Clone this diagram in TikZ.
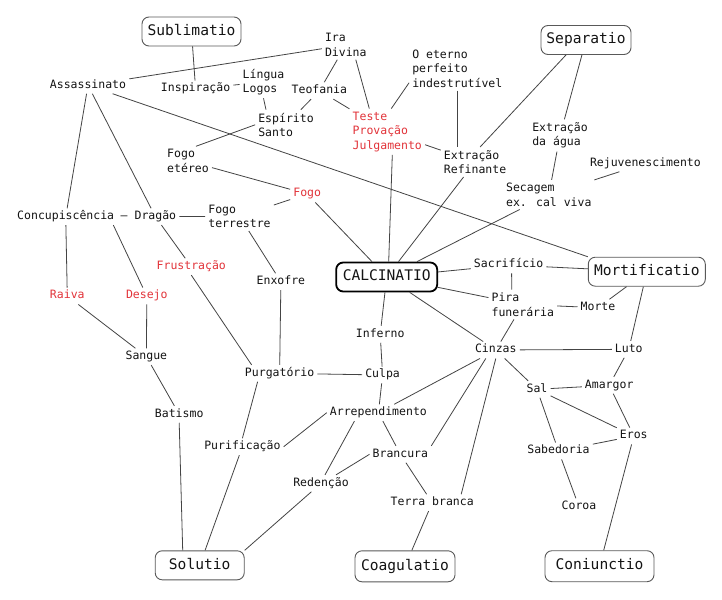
\documentclass[tikz,border=0pt]{standalone}
\usepackage{fontspec}
\newfontfamily\mono{DejaVu Sans Mono}
\definecolor{redtxt}{RGB}{226,52,58}
\definecolor{ln}{RGB}{68,68,68}
\definecolor{txt}{RGB}{20,20,20}
\begin{document}
\begin{tikzpicture}[x=1pt,y=-1pt,
 t/.style={font=\mono\fontsize{11.5}{14.5}\selectfont, text=txt, inner sep=3pt, text height=8pt, text depth=2.5pt},
 tm/.style={font=\mono\fontsize{11.5}{14.5}\selectfont, text=txt, inner sep=3pt, align=left},
 hot/.style={text=redtxt},
 box/.style={draw=black!65, line width=0.9pt, rounded corners=7pt, font=\mono\fontsize{14.6}{17}\selectfont, text=txt, minimum height=29pt, inner sep=2pt, text height=10.5pt, text depth=3pt},
 e/.style={draw=ln, line width=0.8pt}
]
\fill[white] (0,0) rectangle (722,599);
\useasboundingbox (0,0) rectangle (722,599);

% boxes
\node[box, minimum width=99pt] (subl) at (191.5,31.5) {Sublimatio};
\node[box, minimum width=90pt] (sep) at (586,40) {Separatio};
\node[box, minimum width=101pt, draw=black, line width=1.8pt] (calc) at (386.7,277) {CALCINATIO};
\node[box, minimum width=117pt] (mort) at (646.8,271.7) {Mortificatio};
\node[box, minimum width=89pt] (solu) at (199.7,565.3) {Solutio};
\node[box, minimum width=100pt, minimum height=31pt] (coag) at (405,566.3) {Coagulatio};
\node[box, minimum width=109pt, minimum height=31pt] (coni) at (599.5,566.2) {Coniunctio};

% text nodes
\node[t] (assa) at (88,85.3) {Assassinato};
\node[tm] (ira) at (345.8,45) {Ira\\Divina};
\node[tm] (lingua) at (263.5,82) {Língua\\Logos};
\node[t] (insp) at (195.6,89) {Inspiração};
\node[t] (teof) at (319.4,90.7) {Teofania};
\node[tm] (esp) at (286,124.8) {Espírito\\Santo};
\node[tm] (eterno) at (457.3,68.7) {O eterno\\perfeito\\indestrutível};
\node[tm, hot] (teste) at (387.3,131.7) {Teste\\Provação\\Julgamento};
\node[tm] (extref) at (475.1,162) {Extração\\Refinante};
\node[tm] (extagua) at (560,135.5) {Extração\\da água};
\node[t] (rejuv) at (645.4,163.3) {Rejuvenescimento};
\node[tm] (secagem) at (548.8,194.7) {Secagem\\ex. cal viva};
\node[tm] (fogoet) at (188,161) {Fogo\\etéreo};
\node[t, hot] (fogo) at (307.2,194) {Fogo};
\node[tm] (fogoter) at (239.5,216.3) {Fogo\\terrestre};
\node[t] (conc) at (65.7,216.7) {Concupiscência};
\node[t] (dash) at (124.2,216.7) {–};
\node[t] (drag) at (155.4,216.7) {Dragão};
\node[t, hot] (frust) at (191.3,266.7) {Frustração};
\node[t, hot] (raiva) at (67.3,296) {Raiva};
\node[t, hot] (desejo) at (146.8,296) {Desejo};
\node[t] (sangue) at (146.4,356.7) {Sangue};
\node[t] (batismo) at (179.2,414.3) {Batismo};
\node[t] (enxofre) at (280.9,281.7) {Enxofre};
\node[t] (purg) at (279.6,373.3) {Purgatório};
\node[t] (inferno) at (380.2,334.3) {Inferno};
\node[t] (culpa) at (382.6,375) {Culpa};
\node[t] (arrep) at (378.4,412.7) {Arrependimento};
\node[t] (purif) at (242.4,446.7) {Purificação};
\node[t] (branc) at (400.4,454.3) {Brancura};
\node[t] (reden) at (321,483.3) {Redenção};
\node[t] (terrab) at (432.2,502.7) {Terra branca};
\node[t] (sacr) at (508.6,265) {Sacrifício};
\node[tm] (pira) at (522.8,304.5) {Pira\\funerária};
\node[t] (morte) at (598,307.7) {Morte};
\node[t] (cinzas) at (495.8,350) {Cinzas};
\node[t] (luto) at (628.8,349.3) {Luto};
\node[t] (sal) at (537,389.3) {Sal};
\node[t] (amargor) at (609.2,385.3) {Amargor};
\node[t] (eros) at (633.8,436) {Eros};
\node[t] (sabed) at (558.5,451) {Sabedoria};
\node[t] (coroa) at (579,506.7) {Coroa};

% connectors
\draw[e] (subl) -- (insp);
\draw[e] (assa) -- (ira);
\draw[e] (assa) -- (mort.north west);
\draw[e] (assa) -- (conc);
\draw[e] (assa) -- (drag);
\draw[e] (ira) -- (teof);
\draw[e] ([xshift=10pt]ira.south) -- ([xshift=-18pt]teste.north);
\draw[e] (teof) -- (teste);
\draw[e] (teof) -- (esp);
\draw[e] (lingua.south) -- ([xshift=-20pt]esp.north);
\draw[e] (insp) -- (lingua);
\draw[e] (esp.west) -- ([xshift=8pt]fogoet.north);
\draw[e] ([yshift=8pt]eterno.south west) -- ([xshift=4pt]teste.north);
\draw[e] (eterno.south) -- (eterno.south |- extref.north);
\draw[e] (teste) -- (extref);
\draw[e] ([xshift=5pt]teste.south) -- ([xshift=2pt]calc.north);
\draw[e] (extref) -- (calc);
\draw[e] ([xshift=-20pt]sep.south) -- ([xshift=5pt]extref.north);
\draw[e] (sep) -- (extagua);
\draw[e] (extagua) -- (secagem);
\draw[e] (rejuv) -- (secagem);
\draw[e] (secagem) -- (calc);
\draw[e] (fogoet) -- (fogo);
\draw[e] (fogo) -- (fogoter);
\draw[e] (fogo) -- (calc);
\draw[e] (drag) -- (fogoter);
\draw[e] (fogoter) -- (enxofre);
\draw[e] (drag) -- (frust);
\draw[e] (frust.south) -- ([xshift=-28pt]purg.north);
\draw[e] (conc) -- (raiva);
\draw[e] ([xshift=-4pt]conc.south east) -- (desejo);
\draw[e] (raiva) -- (sangue);
\draw[e] (desejo) -- (sangue);
\draw[e] (sangue) -- (batismo);
\draw[e] (batismo.south) -- ([xshift=-17pt]solu.north);
\draw[e] (enxofre) -- (purg);
\draw[e] ([xshift=-22pt]purg.south) -- (purif.north);
\draw[e] (purif) -- (solu);
\draw[e] (purg) -- (culpa);
\draw[e] (calc) -- (inferno);
\draw[e] (inferno) -- (culpa);
\draw[e] (culpa) -- (arrep);
\draw[e] (purif.east) -- (arrep.west);
\draw[e] ([xshift=-24pt]arrep.south) -- ([xshift=4pt]reden.north);
\draw[e] (arrep) -- (branc);
\draw[e] (branc.west) -- ([xshift=15pt]reden.north);
\draw[e] (reden) -- (solu.north east);
\draw[e] (branc) -- (terrab);
\draw[e] (terrab) -- (coag);
\draw[e] (cinzas) -- (arrep);
\draw[e] ([xshift=-10pt]cinzas.south) -- (branc.north east);
\draw[e] (cinzas.south) -- ([xshift=29pt]terrab.north);
\draw[e] (calc) -- (cinzas);
\draw[e] (calc) -- (sacr);
\draw[e] (calc) -- (pira);
\draw[e] (sacr) -- (mort);
\draw[e] ([xshift=3pt]sacr.south) -- ([xshift=-11pt]pira.north);
\draw[e] (pira) -- (morte);
\draw[e] (morte) -- (mort);
\draw[e] (pira) -- (cinzas);
\draw[e] (cinzas) -- (luto);
\draw[e] (mort) -- (luto);
\draw[e] (luto) -- (amargor);
\draw[e] (cinzas) -- (sal);
\draw[e] (sal) -- (amargor);
\draw[e] (sal) -- (eros);
\draw[e] (amargor) -- (eros);
\draw[e] (sal) -- (sabed);
\draw[e] (eros) -- (sabed);
\draw[e] (sabed) -- (coroa);
\draw[e] (eros) -- (coni);
\end{tikzpicture}
\end{document}
